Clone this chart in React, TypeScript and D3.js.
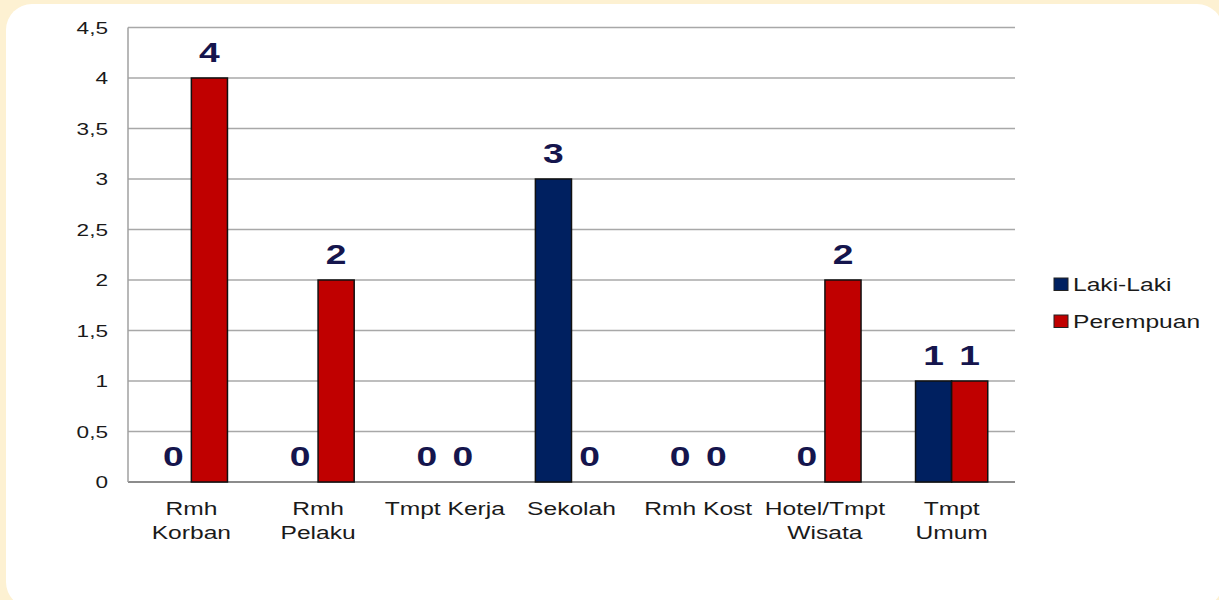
import React from "react";
import * as d3 from "d3";

const categories: string[][] = [
  ["Rmh", "Korban"],
  ["Rmh", "Pelaku"],
  ["Tmpt Kerja"],
  ["Sekolah"],
  ["Rmh Kost"],
  ["Hotel/Tmpt", "Wisata"],
  ["Tmpt", "Umum"],
];
const lakiLaki = [0, 0, 0, 3, 0, 0, 1];
const perempuan = [4, 2, 0, 0, 0, 2, 1];
const seriesNames = ["Laki-Laki", "Perempuan"];
const seriesColors = ["#002060", "#C00000"];
const yTicks = [0, 0.5, 1, 1.5, 2, 2.5, 3, 3.5, 4, 4.5];

const W = 1219;
const H = 600;
const plot = { left: 128, right: 1015, top: 27.5, bottom: 482 };
const SX = 1.33; // horizontal stretch of text seen in the reference

export default function App() {
  const x = d3
    .scaleBand<number>()
    .domain(categories.map((_, i) => i))
    .range([plot.left, plot.right]);
  const y = d3.scaleLinear().domain([0, 4.5]).range([plot.bottom, plot.top]);
  const barW = x.bandwidth() * 0.285;
  const series = [lakiLaki, perempuan];
  const fmt = (v: number) => String(v).replace(".", ",");
  const tr = (tx: number, ty: number) => `translate(${tx},${ty}) scale(${SX},1)`;

  return (
    <svg
      width={W}
      height={H}
      style={{ position: "absolute", left: 0, top: 0, display: "block" }}
      fontFamily="'Liberation Sans', Arial, sans-serif"
    >
      <rect x={0} y={0} width={W} height={H} fill="#FDF1D2" />
      <rect x={6} y={4} width={1217} height={604} rx={26} fill="#FFFFFF" />

      {yTicks.map((t) => (
        <g key={t}>
          <line
            x1={plot.left}
            x2={plot.right}
            y1={y(t)}
            y2={y(t)}
            stroke={t === 0 ? "#8c8c8c" : "#a8a8a8"}
            strokeWidth={t === 0 ? 2 : 1.5}
          />
          <text
            transform={tr(108, y(t))}
            dy="0.36em"
            textAnchor="end"
            fontSize={17}
            fill="#1a1a1a"
          >
            {fmt(t)}
          </text>
        </g>
      ))}
      <line
        x1={plot.left}
        x2={plot.left}
        y1={plot.top}
        y2={plot.bottom}
        stroke="#a0a0a0"
        strokeWidth={1.5}
      />

      {categories.map((lines, i) => {
        const cx = (x(i) as number) + x.bandwidth() / 2;
        return (
          <g key={i}>
            {series.map((s, si) => {
              const v = s[i];
              const bx = cx + (si === 0 ? -barW : 0);
              return (
                <g key={si}>
                  {v > 0 && (
                    <rect
                      x={bx}
                      y={y(v)}
                      width={barW}
                      height={y(0) - y(v)}
                      fill={seriesColors[si]}
                      stroke="#111"
                      strokeWidth={1.5}
                    />
                  )}
                  <text
                    transform={tr(bx + barW / 2, y(v) - 16)}
                    textAnchor="middle"
                    fontSize={28}
                    fontWeight="bold"
                    fill="#15154d"
                  >
                    {fmt(v)}
                  </text>
                </g>
              );
            })}
            {lines.map((l, li) => (
              <text
                key={li}
                transform={tr(cx, 515 + li * 23.5)}
                textAnchor="middle"
                fontSize={18.5}
                fill="#1a1a1a"
              >
                {l}
              </text>
            ))}
          </g>
        );
      })}

      {seriesNames.map((n, i) => (
        <g key={n} transform={`translate(1054, ${278 + i * 37})`}>
          <rect x={0} y={0} width={14} height={12.5} fill={seriesColors[i]} stroke="#222" strokeWidth={1} />
          <text transform={tr(19, 13)} fontSize={18.5} fill="#1a1a1a">
            {n}
          </text>
        </g>
      ))}
    </svg>
  );
}
